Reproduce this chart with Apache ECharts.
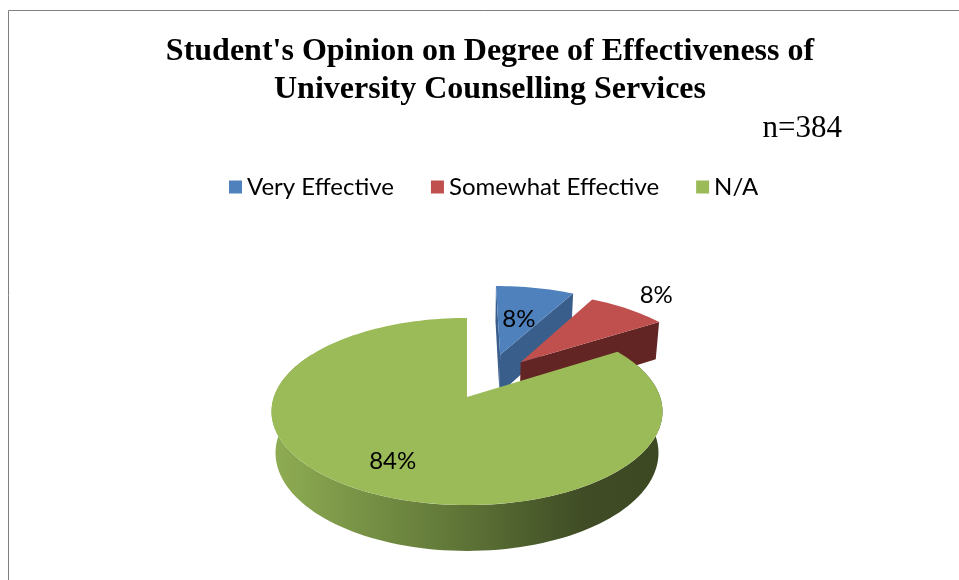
<!DOCTYPE html>
<html>
<head>
<meta charset="utf-8">
<script src="https://cdn.jsdelivr.net/npm/echarts@6/dist/echarts.min.js"></script>
<style>
html,body{margin:0;padding:0;background:#fff;}
#chart{width:959px;height:580px;}
</style>
</head>
<body>
<div id="chart"></div>
<script>
// ---- data ----
const categories = ['Very Effective', 'Somewhat Effective', 'N/A'];
const percentValues = [8, 8, 84];
const sampleSizeText = 'n=384';
const titleLines = ["Student's Opinion on Degree of Effectiveness of", 'University Counselling Services'];

// ---- styles / geometry ----
const topColors = ['#4f81bd', '#c0504d', '#9bbb59'];
const cutColors = ['#3a5e8b', '#632523', '#5f7537'];
const explode = [0.53, 0.5, 0];
const explodeTurnDeg = [6, -7, 0];
const labelRadius = [0.5, 1.3, 0.72];
const GEO = { cx: 467, cy: 397, F: 1097, D: 5.68, S: 0.473, C: 0.881, H: 0.246 };

function proj(X, Y, Z) {
  const yp = Y * GEO.C + Z * GEO.S;
  const zp = Z * GEO.C - Y * GEO.S;
  const k = GEO.F / (GEO.D + zp);
  return [GEO.cx + X * k, GEO.cy - yp * k];
}
function area(pts) {
  let s = 0;
  for (let i = 0; i < pts.length; i++) {
    const a = pts[i], b = pts[(i + 1) % pts.length];
    s += a[0] * b[1] - b[0] * a[1];
  }
  return s / 2;
}
const total = percentValues.reduce((a, b) => a + b, 0);

function makeRender(idx) {
  return function (params, api) {
    const v = api.value(0);
    let before = 0;
    for (let j = 0; j < idx; j++) before += percentValues[j];
    const p0 = before / total * Math.PI * 2;
    const p1 = (before + v) / total * Math.PI * 2;
    const mid = (p0 + p1) / 2;
    const ed = mid + explodeTurnDeg[idx] * Math.PI / 180;
    const ox = explode[idx] * Math.sin(ed), oz = explode[idx] * Math.cos(ed);
    const rim = (phi, Y, r) => proj(ox + (r === undefined ? 1 : r) * Math.sin(phi), Y, oz + (r === undefined ? 1 : r) * Math.cos(phi));
    const H = GEO.H;
    const children = [];
    // outer wall (front facing part)
    const a0 = Math.max(p0, Math.PI * 60 / 180), a1 = Math.min(p1, Math.PI * 300 / 180);
    if (a1 > a0) {
      const topPts = [], botPts = [];
      const n = 120;
      for (let i = 0; i <= n; i++) {
        const phi = a0 + (a1 - a0) * i / n;
        topPts.push(rim(phi, 0));
        botPts.push(rim(phi, -H));
      }
      const xs = topPts.map(p => p[0]);
      const xmin = Math.min.apply(null, xs), xmax = Math.max.apply(null, xs);
      const grad = {
        type: 'linear', x: xmin, y: 0, x2: xmax, y2: 0, global: true,
        colorStops: [
          { offset: 0, color: '#8fad53' },
          { offset: 0.45, color: '#627939' },
          { offset: 0.8, color: '#3f4c25' },
          { offset: 1, color: '#3c4822' }
        ]
      };
      children.push({ type: 'polygon', shape: { points: topPts.concat(botPts.reverse()) }, style: { fill: grad }, z2: 1 });
    }
    // cut faces
    const apT = proj(ox, 0, oz), apB = proj(ox, -H, oz);
    const q0 = [apT, rim(p0, 0), rim(p0, -H), apB];
    const q1 = [apT, rim(p1, 0), rim(p1, -H), apB];
    if (area(q0) < 0) children.push({ type: 'polygon', shape: { points: q0 }, style: { fill: cutColors[idx] }, z2: 2 });
    if (area(q1) > 0) children.push({ type: 'polygon', shape: { points: q1 }, style: { fill: cutColors[idx] }, z2: 2 });
    // top face
    const top = [apT];
    const steps = Math.max(8, Math.round((p1 - p0) / (Math.PI * 2) * 200));
    for (let i = 0; i <= steps; i++) top.push(rim(p0 + (p1 - p0) * i / steps, 0));
    children.push({ type: 'polygon', shape: { points: top }, style: { fill: topColors[idx] }, z2: 3 });
    // label
    const lp = rim(mid, 0, labelRadius[idx]);
    children.push({
      type: 'text', z2: 10,
      style: { x: lp[0], y: lp[1], text: Math.round(v / total * 100) + '%', fill: '#000',
        fontSize: 24, fontFamily: 'Lato', align: 'center', verticalAlign: 'middle' }
    });
    return { type: 'group', children: children };
  };
}

const series = categories.map((name, i) => ({
  type: 'custom',
  name: name,
  coordinateSystem: 'none',
  silent: true,
  itemStyle: { color: topColors[i] },
  data: [[percentValues[i]]],
  renderItem: makeRender(i)
}));

const chart = echarts.init(document.getElementById('chart'), null, { renderer: 'canvas' });
chart.setOption({
  animation: false,
  backgroundColor: '#fff',
  title: [
    {
      text: titleLines.join('\n'),
      left: 485, top: 28, textAlign: 'center',
      textStyle: { fontFamily: 'Liberation Serif', fontWeight: 'bold', fontSize: 32, lineHeight: 38, color: '#000' }
    },
    {
      text: sampleSizeText,
      right: 112, top: 108,
      textStyle: { fontFamily: 'Liberation Serif', fontWeight: 'normal', fontSize: 31, color: '#000' }
    }
  ],
  legend: {
    data: categories,
    left: 224, top: 170,
    icon: 'rect', itemWidth: 13, itemHeight: 13, itemGap: 37,
    textStyle: { fontFamily: 'Lato', fontSize: 24, color: '#000' },
    selectedMode: false
  },
  graphic: [{
    type: 'rect', silent: true,
    shape: { x: 8.5, y: 10.5, width: 1000, height: 700 },
    style: { fill: 'none', stroke: '#7f7f7f', lineWidth: 1 }
  }],
  series: series
});
</script>
</body>
</html>
